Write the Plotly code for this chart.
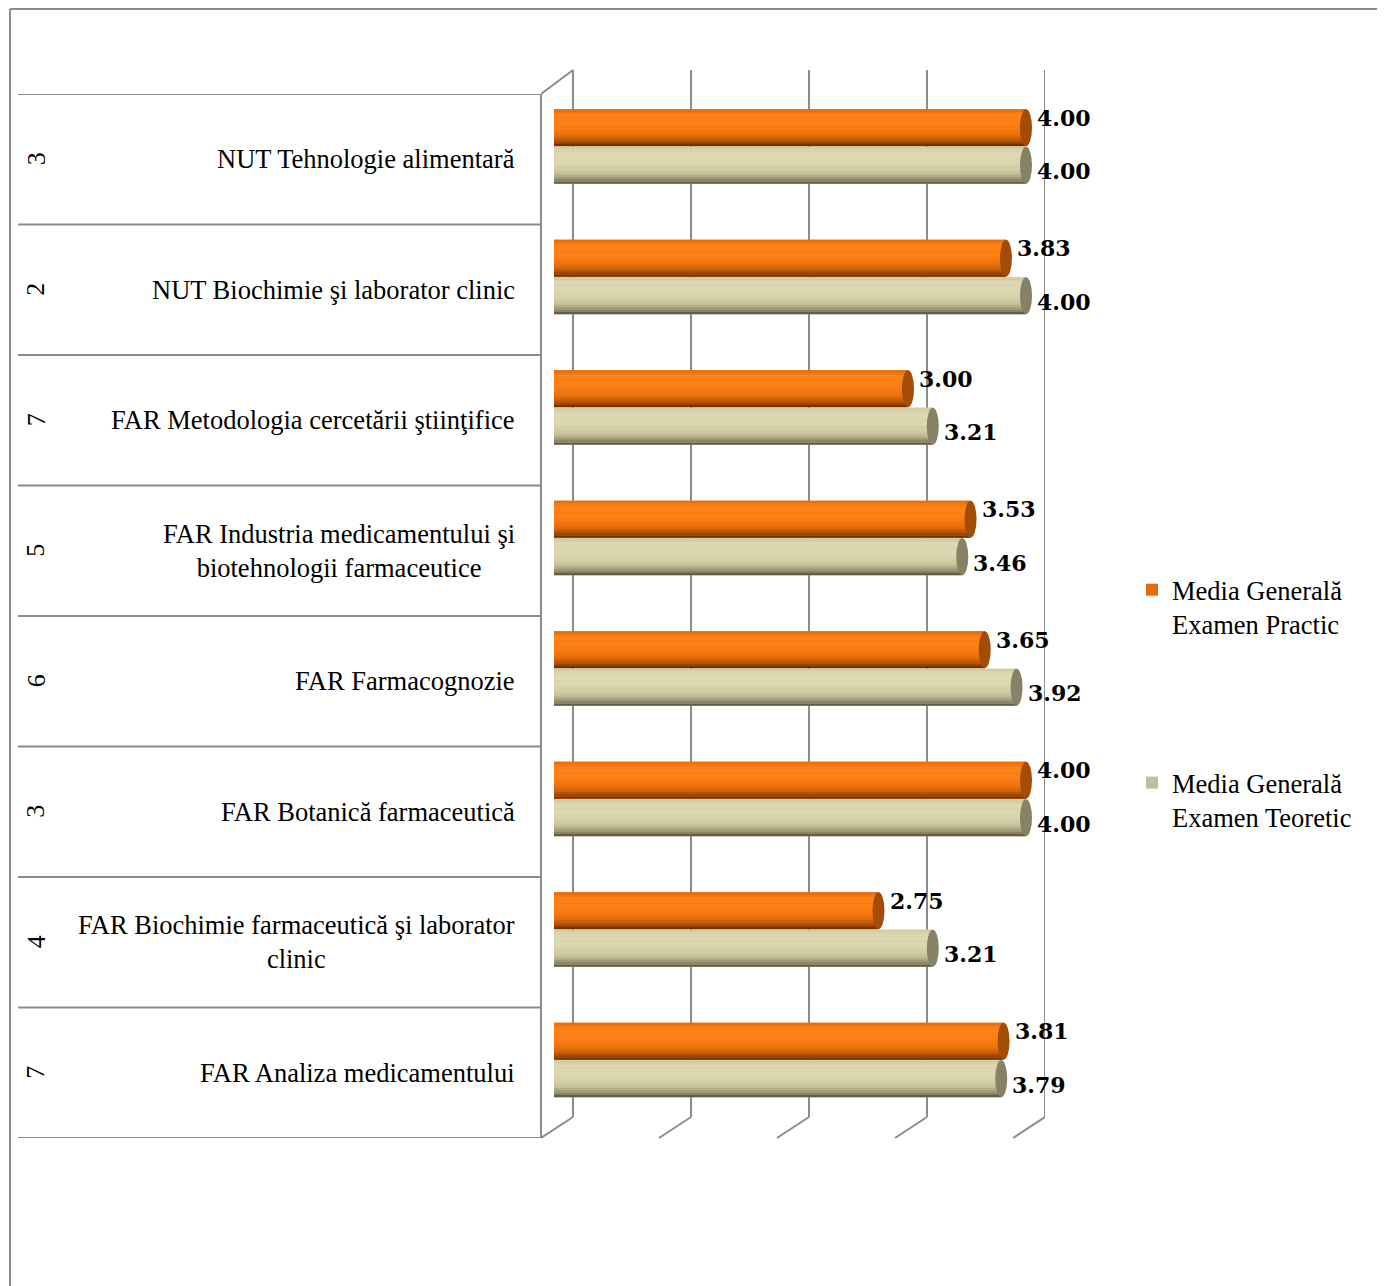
import plotly.graph_objects as go

# ---------------- data (bottom -> top) ----------------
categories = [
    "FAR Analiza medicamentului",
    "FAR Biochimie farmaceutică şi laborator<br>clinic",
    "FAR Botanică farmaceutică",
    "FAR Farmacognozie",
    "FAR Industria medicamentului şi<br>biotehnologii farmaceutice",
    "FAR Metodologia cercetării ştiinţifice",
    "NUT Biochimie şi laborator clinic",
    "NUT Tehnologie alimentară",
]
group_counts = ["7", "4", "3", "6", "5", "7", "2", "3"]
practic = [3.81, 2.75, 4.00, 3.65, 3.53, 3.00, 3.83, 4.00]
teoretic = [3.79, 3.21, 4.00, 3.92, 3.46, 3.21, 4.00, 4.00]
series_names = ["Media Generală<br>Examen Practic", "Media Generală<br>Examen Teoretic"]
grid_ticks = [0, 1, 2, 3, 4]

# ---------------- geometry / style ----------------
W, H = 1385, 1286
PAGE_OFF = 8  # default body margin of the html page
PLOT_L, PLOT_R, PLOT_T, PLOT_B = 541, 1045, 94, 1138
ZERO_PX, PXU = 554, 118.0
x_range = [(PLOT_L - ZERO_PX) / PXU, (PLOT_R - ZERO_PX) / PXU]
BACK_DX = (573 - ZERO_PX) / PXU
FRONT_DX = (541 - ZERO_PX) / PXU
BACK_TOP, BACK_BOT = 70, 1117


def py(p):
    return 1 - (p - PAGE_OFF) / H


def pxx(p):
    return (p - PAGE_OFF) / W


def hex2rgb(h):
    h = h.lstrip("#")
    return [int(h[i:i + 2], 16) for i in (0, 2, 4)]


def gradient(stops, nb):
    # stops: list of (fraction, hex); returns nb bands (f0, f1, color)
    out = []
    for b in range(nb):
        f0, f1 = b / nb, (b + 1) / nb
        fm = (f0 + f1) / 2
        for (a, ca), (c, cc) in zip(stops[:-1], stops[1:]):
            if a <= fm <= c:
                t = (fm - a) / (c - a)
                ra, rc = hex2rgb(ca), hex2rgb(cc)
                col = "rgb(%d,%d,%d)" % tuple(round(ra[j] + (rc[j] - ra[j]) * t) for j in range(3))
                break
        out.append((f0, f1, col))
    return out


n = len(categories)
unit_px = (PLOT_B - PLOT_T) / n
bar_w = 37 / unit_px
series_offset = [(31.5 / unit_px) - bar_w / 2, (-6 / unit_px) - bar_w / 2]
legend_colors = ["#E46C0A", "#C4BD97"]
bands = [
    gradient([(0.0, "#5E2A00"), (0.12, "#A84D05"), (0.3, "#E86F0C"), (0.55, "#FF8016"),
              (0.85, "#FF8416"), (1.0, "#E36A0A")], 16),
    gradient([(0.0, "#4E4A38"), (0.1, "#8C876A"), (0.3, "#CBC59E"), (0.55, "#DDD7B0"),
              (0.85, "#E0DAB4"), (1.0, "#CFC9A2")], 16),
]
cap_colors = ["#A24C08", "#878266"]
label_shift = [10, -6]
CAP_HW = 6 / PXU
GRID = "#8C8C8C"
SERIF = "Liberation Serif, Times New Roman, serif"

fig = go.Figure()
all_series = [practic, teoretic]
for s, vals in enumerate(all_series):
    o = series_offset[s]
    fig.add_trace(go.Bar(
        x=vals, y=categories, orientation="h", base=0, width=bar_w, offset=o,
        marker=dict(color=legend_colors[s], line=dict(width=0)),
        name=series_names[s], legendgroup=f"g{s}", showlegend=True,
        hoverinfo="x+y",
    ))
    for f0, f1, col in bands[s]:
        fig.add_trace(go.Bar(
            x=vals, y=categories, orientation="h", base=0,
            width=bar_w * (f1 - f0) * 1.02, offset=o + bar_w * f0,
            marker=dict(color=col, line=dict(width=0)),
            legendgroup=f"g{s}", showlegend=False, hoverinfo="skip",
        ))

shapes = []
annotations = []

# 3D back-wall gridlines
for k in grid_ticks:
    shapes.append(dict(type="line", xref="x", yref="paper", x0=k + BACK_DX, x1=k + BACK_DX,
                       y0=py(BACK_BOT), y1=py(BACK_TOP), line=dict(color=GRID, width=2), layer="below"))
    shapes.append(dict(type="line", xref="x", yref="paper", x0=k + BACK_DX, x1=k + FRONT_DX,
                       y0=py(BACK_BOT), y1=py(PLOT_B), line=dict(color=GRID, width=2), layer="below"))
# front axis line and top diagonal
shapes.append(dict(type="line", xref="paper", yref="paper", x0=pxx(PLOT_L), x1=pxx(PLOT_L),
                   y0=py(PLOT_B), y1=py(PLOT_T), line=dict(color=GRID, width=2), layer="below"))
shapes.append(dict(type="line", xref="x", yref="paper", x0=grid_ticks[0] + FRONT_DX, x1=grid_ticks[0] + BACK_DX,
                   y0=py(PLOT_T), y1=py(BACK_TOP), line=dict(color=GRID, width=2), layer="below"))
# category separators
for i in range(n + 1):
    shapes.append(dict(type="line", xref="paper", yref="y", x0=pxx(18), x1=pxx(PLOT_L),
                       y0=i - 0.5, y1=i - 0.5, line=dict(color=GRID, width=2), layer="below"))
# outer frame
shapes.append(dict(type="line", xref="paper", yref="paper", x0=pxx(10), x1=1.2, y0=py(9), y1=py(9),
                   line=dict(color=GRID, width=2)))
shapes.append(dict(type="line", xref="paper", yref="paper", x0=pxx(10), x1=pxx(10), y0=-0.2, y1=py(9),
                   line=dict(color=GRID, width=2)))

# cylinder end caps + value labels
for s, vals in enumerate(all_series):
    o = series_offset[s]
    for i, v in enumerate(vals):
        shapes.append(dict(type="circle", xref="x", yref="y", x0=v - CAP_HW, x1=v + CAP_HW,
                           y0=i + o, y1=i + o + bar_w, fillcolor=cap_colors[s],
                           line=dict(width=0), layer="above"))
        annotations.append(dict(x=v + CAP_HW, y=i + o + bar_w / 2, xref="x", yref="y",
                                text=f"<b>{v:.2f}</b>", showarrow=False, xanchor="left",
                                yanchor="middle", xshift=3, yshift=label_shift[s],
                                font=dict(family="DejaVu Serif", size=22, color="black")))

# category labels
for i, (cat, cnt) in enumerate(zip(categories, group_counts)):
    annotations.append(dict(x=pxx(517), y=i, xref="paper", yref="y", text=cat, showarrow=False,
                            xanchor="right", yanchor="middle", align="center",
                            font=dict(family=SERIF, size=26.5, color="black")))
    annotations.append(dict(x=pxx(36), y=i, xref="paper", yref="y", text=cnt, showarrow=False,
                            xanchor="center", yanchor="middle", textangle=-90,
                            font=dict(family=SERIF, size=26, color="black")))

fig.update_layout(
    width=W, height=H,
    margin=dict(l=0, r=0, t=0, b=0),
    paper_bgcolor="white", plot_bgcolor="rgba(0,0,0,0)",
    barmode="overlay",
    xaxis=dict(domain=[pxx(PLOT_L), pxx(PLOT_R)], range=x_range, showgrid=False, zeroline=False,
               showticklabels=False, showline=False, ticks=""),
    yaxis=dict(domain=[py(PLOT_B), py(PLOT_T)], type="category", categoryarray=categories,
               categoryorder="array", range=[-0.5, n - 0.5], showgrid=False, zeroline=False,
               showticklabels=False, showline=False, ticks=""),
    legend=dict(x=pxx(1132), y=py(566), xanchor="left", yanchor="top", traceorder="grouped",
                tracegroupgap=121, valign="top", bgcolor="rgba(0,0,0,0)",
                font=dict(family=SERIF, size=26.5, color="black")),
    shapes=shapes, annotations=annotations,
    showlegend=True,
)

fig.write_html("out.html")
